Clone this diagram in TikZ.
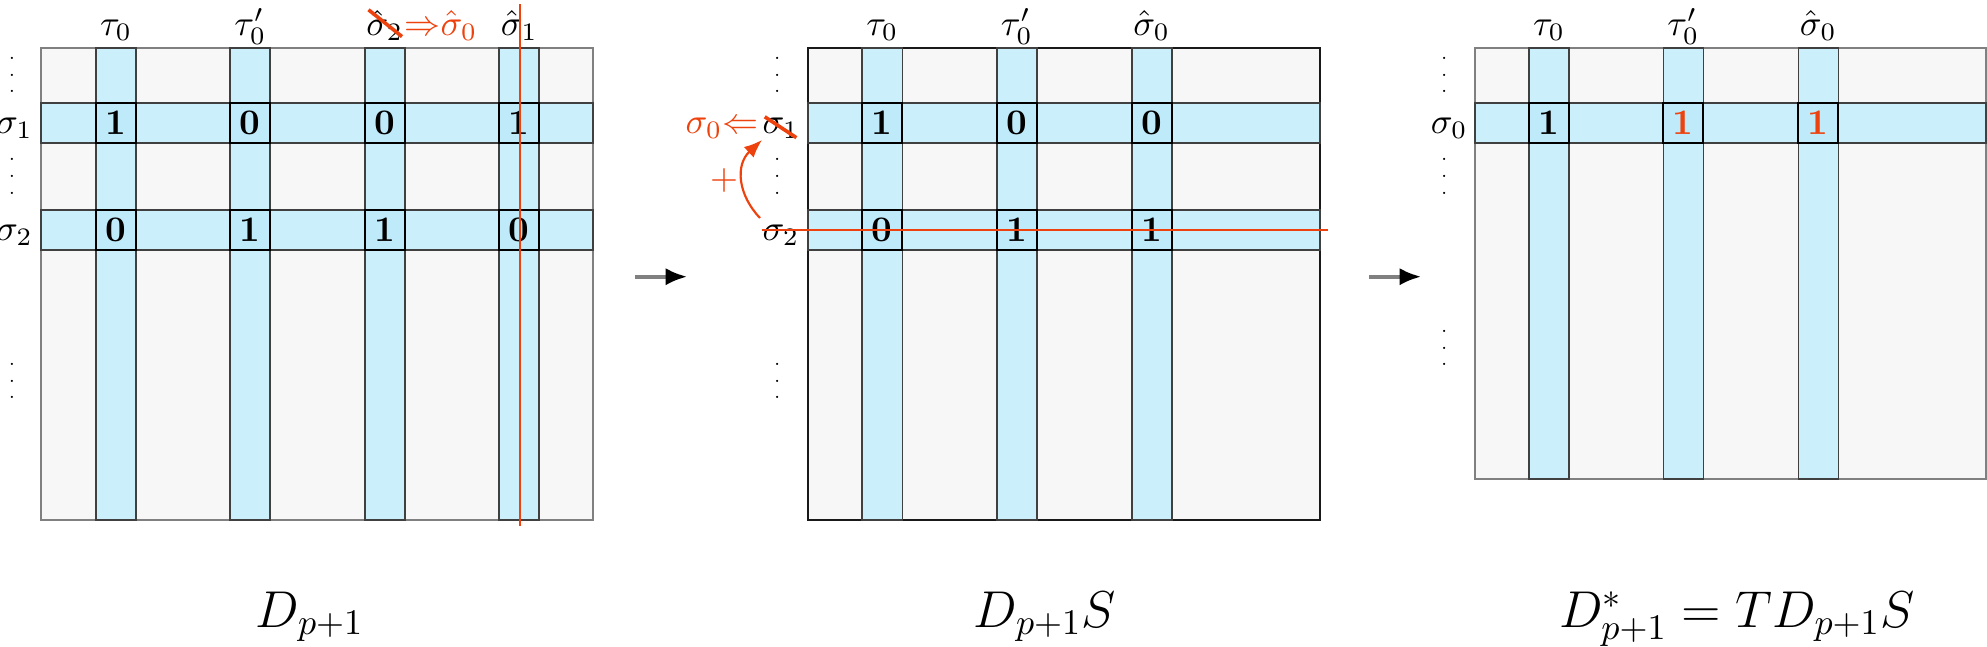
\documentclass[tikz,border=0pt]{standalone}
\usetikzlibrary{arrows.meta}
\definecolor{bandc}{RGB}{204,239,252}
\definecolor{cellc}{RGB}{190,234,250}
\definecolor{bgc}{RGB}{247,247,247}
\definecolor{redc}{RGB}{238,66,14}
\newcommand\vdts{\vbox{\tiny\baselineskip=4.64pt\lineskiplimit=-10pt\hbox{.}\hbox{.}\hbox{.}}}
\begin{document}
\begin{tikzpicture}[x=0.27778pt,y=-0.27778pt,
 bg/.style={fill=bgc,draw=black!50,line width=0.5pt},
 bgdark/.style={fill=bgc,draw=black!90,line width=0.5pt},
 band/.style={fill=bandc,draw=black!75,line width=0.45pt},
 cell/.style={draw=black,line width=0.6pt,fill=cellc,minimum size=11.11pt,inner sep=0pt,font=\bfseries},
 lab/.style={inner sep=0pt,anchor=base},
 rlab/.style={inner sep=0pt,anchor=base east},
 dts/.style={inner sep=0pt},
 strike/.style={draw=redc,line width=1pt},
 redline/.style={draw=redc,line width=0.6pt},
 flow/.style={draw=black!50,line width=1.1pt,-{Latex[length=6pt,width=4.8pt,black]}},
 big/.style={inner sep=0pt,anchor=base,font=\Large}]
\useasboundingbox (0,0) rectangle (1987,646);

% ---------- left matrix ----------
\draw[bg] (41.3,48.3) rectangle (593,520);
\foreach \c in {116,250.3,384.7,519.3} \draw[band] (\c-20,48.3) rectangle (\c+20,520);
\foreach \r in {122.7,230} \draw[band] (41.3,\r-20) rectangle (593,\r+20);
\node[cell] (L11) at (116,122.7) {1};
\node[cell] (L12) at (250.3,122.7) {0};
\node[cell] (L13) at (384.7,122.7) {0};
\node[cell] (L14) at (519.3,122.7) {1};
\node[cell] (L21) at (116,230) {0};
\node[cell] (L22) at (250.3,230) {1};
\node[cell] (L23) at (384.7,230) {1};
\node[cell] (L24) at (519.3,230) {0};
\node[lab] (Lt1) at (116,35.5) {$\tau_0$};
\node[lab] (Lt2) at (250.3,35.5) {$\tau_0'$};
\node[lab] (Lt3) at (384.7,35.5) {$\hat\sigma_2$};
\node[lab,anchor=base west,text=redc] (Lt3r) at (Lt3.base east) {${\Rightarrow}\hat\sigma_0$};
\node[lab] (Lt4) at (519.3,35.5) {$\hat\sigma_1$};
\draw[strike] ([xshift=0.8pt]Lt3.north west) -- ([xshift=-0.5pt,yshift=1.4pt]Lt3.south east);
\node[rlab] (Ls1) at (33.5,133) {$\sigma_1$};
\node[rlab] (Ls2) at (33.5,240.5) {$\sigma_2$};
\node[dts] (Ld1) at (12,75) {\vdts};
\node[dts] (Ld2) at (12,176.5) {\vdts};
\node[dts] (Ld3) at (12,381) {\vdts};
\draw[redline] (520,4) -- (520,526);

% ---------- middle matrix ----------
\draw[bgdark] (808.3,48.3) rectangle (1320,520);
\foreach \c in {882.3,1016.7,1151.7} \draw[band] (\c-20,48.3) rectangle (\c+20,520);
\foreach \r in {122.7,230} \draw[band] (808.3,\r-20) rectangle (1320,\r+20);
\node[cell] (M11) at (882.3,122.7) {1};
\node[cell] (M12) at (1016.7,122.7) {0};
\node[cell] (M13) at (1151.7,122.7) {0};
\node[cell] (M21) at (882.3,230) {0};
\node[cell] (M22) at (1016.7,230) {1};
\node[cell] (M23) at (1151.7,230) {1};
\node[lab] (Mt1) at (882.3,35.5) {$\tau_0$};
\node[lab] (Mt2) at (1016.7,35.5) {$\tau_0'$};
\node[lab] (Mt3) at (1151.7,35.5) {$\hat\sigma_0$};
\node[rlab] (Ms1) at (800,133) {$\sigma_1$};
\draw[strike] ([xshift=0.8pt]Ms1.north west) -- ([xshift=-1pt,yshift=0.4pt]Ms1.south east);
\node[rlab,text=redc] (Ms0) at ([xshift=-0.8pt]Ms1.base west) {$\sigma_0{\Leftarrow}$};
\node[rlab] (Ms2) at (800,240.5) {$\sigma_2$};
\node[dts] (Md1) at (777.3,75) {\vdts};
\node[dts] (Md2) at (777.3,176.5) {\vdts};
\node[dts] (Md3) at (777.3,381) {\vdts};
\draw[redline] (761.7,230) -- (1328.3,230);
\coordinate (cs) at (760,218);
\coordinate (ce) at (762,140);
\draw[redline,-{Latex[length=5pt,width=4pt]}] (cs) .. controls (738,195) and (735,165) .. (ce);
\node[inner sep=0pt,text=redc] (plus) at (724,180) {$+$};

% ---------- right matrix ----------
\draw[bg] (1474.7,48.3) rectangle (1986,479.3);
\foreach \c in {1549,1683.3,1818.3} \draw[band] (\c-20,48.3) rectangle (\c+20,479.3);
\draw[band] (1474.7,102.7) rectangle (1986,142.7);
\node[cell] (R11) at (1549,122.7) {1};
\node[cell,text=redc] (R12) at (1683.3,122.7) {1};
\node[cell,text=redc] (R13) at (1818.3,122.7) {1};
\node[lab] (Rt1) at (1549,35.5) {$\tau_0$};
\node[lab] (Rt2) at (1683.3,35.5) {$\tau_0'$};
\node[lab] (Rt3) at (1818.3,35.5) {$\hat\sigma_0$};
\node[rlab] (Rs0) at (1468.3,133) {$\sigma_0$};
\node[dts] (Rd1) at (1444.3,75) {\vdts};
\node[dts] (Rd2) at (1444.3,176.5) {\vdts};
\node[dts] (Rd3) at (1444.3,348) {\vdts};

% ---------- arrows ----------
\coordinate (a1s) at (635,276.7);
\coordinate (a1e) at (687.3,276.7);
\draw[flow] (a1s) -- (a1e);
\coordinate (a2s) at (1369,276.7);
\coordinate (a2e) at (1421.3,276.7);
\draw[flow] (a2s) -- (a2e);

% ---------- captions ----------
\node[big] (cap1) at (310,627) {$D_{p+1}$};
\node[big] (cap2) at (1045,627) {$D_{p+1}S$};
\node[big] (cap3) at (1737,627) {$D^*_{p+1}=TD_{p+1}S$};
\end{tikzpicture}
\end{document}
